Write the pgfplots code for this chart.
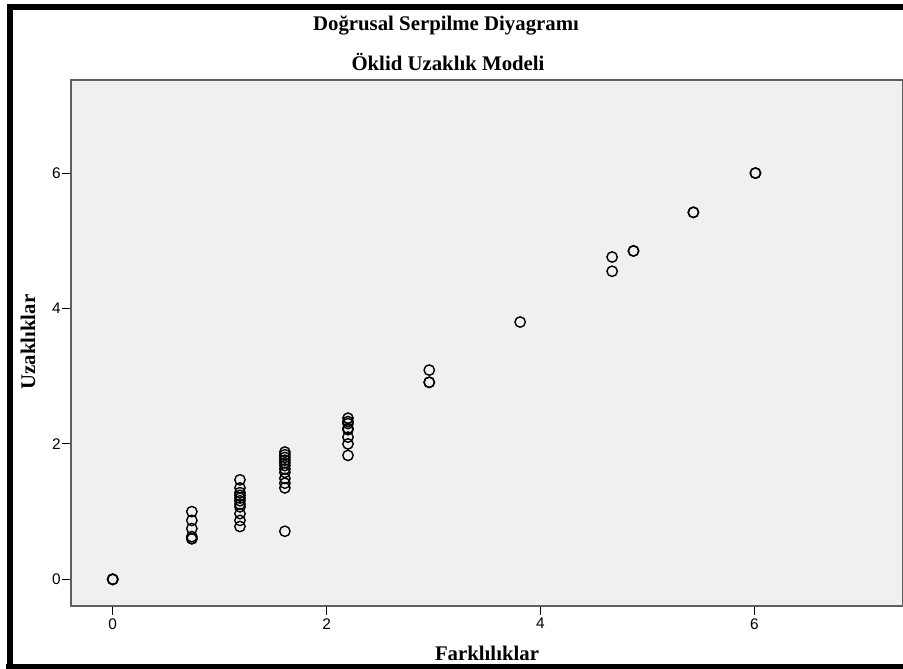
\documentclass[border=0pt]{standalone}
\usepackage{fontspec}
\setmainfont{Liberation Serif}
\newfontfamily\ticksans{Liberation Sans}
\usepackage{pgfplots}
\pgfplotsset{compat=1.18}

\definecolor{plotbg}{RGB}{240,240,240}
\definecolor{boxgray}{RGB}{95,95,95}

% Shepard diagram points: disparities (x) vs distances (y)
\pgfplotstableread{
x     y
0.00  0.00
0.00  0.00
0.00  0.00
0.74  1.00
0.74  0.87
0.74  0.75
0.74  0.63
0.74  0.60
0.74  0.60
1.19  1.47
1.19  1.35
1.19  1.28
1.19  1.24
1.19  1.20
1.19  1.16
1.19  1.11
1.19  1.07
1.19  0.97
1.19  0.87
1.19  0.78
1.61  1.88
1.61  1.84
1.61  1.80
1.61  1.76
1.61  1.72
1.61  1.68
1.61  1.63
1.61  1.58
1.61  1.49
1.61  1.42
1.61  1.35
1.61  0.71
2.20  2.38
2.20  2.33
2.20  2.30
2.20  2.23
2.20  2.21
2.20  2.10
2.20  2.00
2.20  1.83
2.96  3.09
2.96  2.91
2.96  2.91
3.81  3.80
4.67  4.76
4.67  4.55
4.87  4.85
4.87  4.85
5.43  5.42
5.43  5.42
6.01  6.00
6.01  6.00
}\shepard

\begin{document}
\begin{tikzpicture}
\useasboundingbox (0,0) rectangle (451.5pt,334pt);
\begin{axis}[
    at={(35.5pt,31pt)}, anchor=south west,
    scale only axis,
    width=416pt, height=263pt,
    xmin=-0.39, xmax=7.39,
    ymin=-0.394, ymax=7.375,
    xtick={0,2,4,6}, ytick={0,2,4,6},
    axis background/.style={fill=plotbg},
    axis line style={draw=boxgray, line width=1pt},
    tick align=outside,
    major tick length=4.5pt,
    tick style={black, line width=0.5pt},
    xtick pos=bottom, ytick pos=left,
    ticklabel style={font=\ticksans\fontsize{7.7}{9}\selectfont},
    /pgf/number format/assume math mode=true,
    yticklabel style={inner xsep=0.5pt},
    xticklabel style={inner ysep=1.5pt},
    clip=false,
]
\addplot[only marks, mark=o, mark size=2.6pt, mark options={line width=0.7pt, black}]
    table[x=x, y=y] {\shepard};
\end{axis}

% titles and axis labels
\node[anchor=base, font=\bfseries\fontsize{10.4}{12}\selectfont] at (223pt,318.5pt) {Doğrusal Serpilme Diyagramı};
\node[anchor=base, font=\bfseries\fontsize{10.4}{12}\selectfont] at (224pt,298.5pt) {Öklid Uzaklık Modeli};
\node[anchor=base, font=\bfseries\fontsize{10.4}{12}\selectfont] at (243.5pt,4pt) {Farklılıklar};
\node[anchor=base, rotate=90, font=\bfseries\fontsize{10.4}{12}\selectfont] at (17.5pt,163pt) {Uzaklıklar};

% outer frame
\draw[line width=2.8pt, black] (5pt,-2pt) -- (5pt,330.5pt) -- (460pt,330.5pt);
\draw[line width=3pt, black] (3pt,0.5pt) -- (460pt,0.5pt);
\end{tikzpicture}
\end{document}
